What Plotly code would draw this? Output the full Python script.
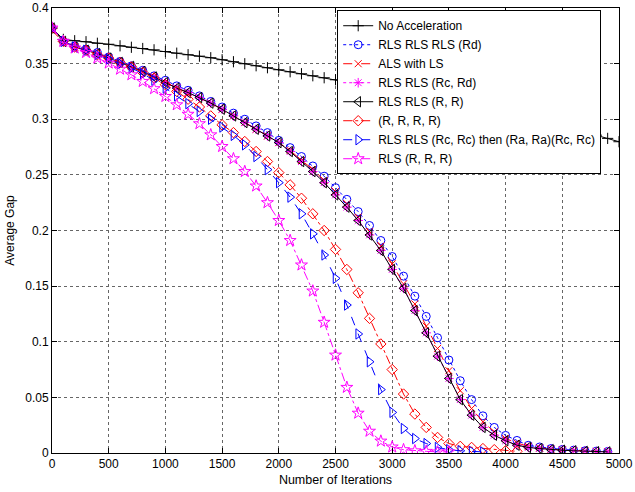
import plotly.graph_objects as go

iterations = list(range(0, 5001, 100))

no_accel = [0.382, 0.3718, 0.3706, 0.3697, 0.3683, 0.3674, 0.366, 0.3647, 0.3636, 0.3624,
            0.3609, 0.3594, 0.358, 0.3567, 0.3553, 0.3535, 0.3517, 0.3499, 0.3481, 0.3463,
            0.3445, 0.3427, 0.3409, 0.3391, 0.3373, 0.3355, 0.3337, 0.332, 0.3302, 0.3284,
            0.3266, 0.3247, 0.3228, 0.3208, 0.3188, 0.3168, 0.3147, 0.3126, 0.3104, 0.3082,
            0.3059, 0.3036, 0.3012, 0.2988, 0.2963, 0.2938, 0.2912, 0.2885, 0.2857, 0.2828,
            0.2798]

rls_rd = [0.382, 0.370, 0.366, 0.363, 0.360, 0.356, 0.352, 0.348, 0.344, 0.339,
          0.335, 0.330, 0.326, 0.321, 0.316, 0.311, 0.3055, 0.300, 0.294, 0.288,
          0.281, 0.2745, 0.2665, 0.258, 0.2488, 0.2385, 0.228, 0.217, 0.2045, 0.191,
          0.1766, 0.159, 0.141, 0.1228, 0.1036, 0.0836, 0.065, 0.048, 0.0334, 0.023,
          0.0158, 0.0113, 0.0069, 0.0054, 0.004, 0.0032, 0.0026, 0.002, 0.0017, 0.0014]

als_ls = [0.380, 0.369, 0.365, 0.362, 0.359, 0.355, 0.351, 0.3475, 0.343, 0.338,
          0.333, 0.328, 0.324, 0.3195, 0.3145, 0.309, 0.303, 0.297, 0.291, 0.285,
          0.279, 0.272, 0.263, 0.255, 0.245, 0.235, 0.224, 0.212, 0.199, 0.186,
          0.170, 0.152, 0.134, 0.114, 0.094, 0.074, 0.056, 0.040, 0.028, 0.019,
          0.013, 0.009, 0.006, 0.0045, 0.0035, 0.0028, 0.0022, 0.0018, 0.0015, 0.0012]

rls_rc_rd = [0.382, 0.370, 0.365, 0.362, 0.359, 0.355, 0.351, 0.3475, 0.343, 0.338,
             0.333, 0.328, 0.324, 0.3195, 0.3145, 0.309, 0.303, 0.297, 0.291, 0.285,
             0.279, 0.271, 0.262, 0.253, 0.243, 0.232, 0.221, 0.209, 0.196, 0.182,
             0.165, 0.148, 0.128, 0.108, 0.087, 0.067, 0.048, 0.034, 0.023, 0.016,
             0.011, 0.007, 0.005, 0.004, 0.003, 0.0025, 0.002, 0.0015, 0.0012, 0.001]

rls_r_r = [0.382, 0.370, 0.365, 0.362, 0.359, 0.355, 0.351, 0.3475, 0.343, 0.338,
           0.333, 0.328, 0.324, 0.3195, 0.3145, 0.309, 0.303, 0.297, 0.291, 0.285,
           0.279, 0.271, 0.262, 0.253, 0.243, 0.232, 0.221, 0.209, 0.196, 0.182,
           0.165, 0.148, 0.128, 0.108, 0.087, 0.067, 0.048, 0.034, 0.023, 0.016,
           0.011, 0.007, 0.005, 0.004, 0.003, 0.0025, 0.002, 0.0015, 0.0012, 0.001]

r4 = [0.382, 0.370, 0.365, 0.362, 0.358, 0.355, 0.351, 0.347, 0.342, 0.337,
      0.331, 0.325, 0.318, 0.311, 0.303, 0.295, 0.288, 0.280, 0.271, 0.262,
      0.252, 0.241, 0.229, 0.215, 0.200, 0.183, 0.165, 0.144, 0.121, 0.098,
      0.075, 0.053, 0.035, 0.023, 0.014, 0.0085, 0.006, 0.005, 0.004, 0.003,
      0.002, 0.0015]

rls_rc_rc = [0.382, 0.370, 0.365, 0.362, 0.358, 0.354, 0.350, 0.346, 0.341, 0.335,
             0.328, 0.321, 0.314, 0.307, 0.300, 0.293, 0.2855, 0.277, 0.2665, 0.2547,
             0.243, 0.230, 0.215, 0.197, 0.178, 0.157, 0.133, 0.107, 0.082, 0.057,
             0.0365, 0.022, 0.013, 0.0085, 0.005, 0.003, 0.002, 0.0015, 0.001]

rls_r3 = [0.382, 0.370, 0.364, 0.360, 0.355, 0.3505, 0.345, 0.340, 0.334, 0.3275,
          0.3205, 0.313, 0.3045, 0.296, 0.286, 0.2755, 0.2645, 0.253, 0.240, 0.225,
          0.209, 0.191, 0.169, 0.1456, 0.1175, 0.088, 0.059, 0.0358, 0.0196, 0.0107,
          0.0054, 0.003, 0.002, 0.0015, 0.001, 0.001]

names = ["No Acceleration", "RLS RLS RLS (Rd)", "ALS with LS", "RLS RLS (Rc, Rd)",
         "RLS RLS (R, R)", "(R, R, R, R)", "RLS RLS (Rc, Rc) then (Ra, Ra)(Rc, Rc)",
         "RLS (R, R, R)"]
series = [no_accel, rls_rd, als_ls, rls_rc_rd, rls_r_r, r4, rls_rc_rc, rls_r3]
colors = ["black", "blue", "red", "magenta", "black", "red", "blue", "magenta"]
dashes = ["solid", "dot", "dash", "dot", "solid", "dashdot", "dash", "dashdot"]
symbols = ["cross-thin-open", "circle-open", "x-thin-open", "asterisk-open",
           "triangle-left-open", "diamond-open", "triangle-right-open", "star-open"]
sizes = [8, 8, 7, 8, 9, 8, 9, 9]

fig = go.Figure()
for name, ys, c, d, s, sz in zip(names, series, colors, dashes, symbols, sizes):
    fig.add_trace(go.Scatter(
        x=iterations[:len(ys)], y=ys, name=name, mode="lines+markers",
        line=dict(color=c, width=1, dash=d),
        marker=dict(symbol=s, size=sz, color=c, line=dict(color=c, width=1)),
    ))

axis_common = dict(
    showline=True, linecolor="black", linewidth=1, mirror="ticks",
    ticks="inside", ticklen=5, tickcolor="black",
    showgrid=True, gridcolor="#666", griddash="dot", gridwidth=1,
    zeroline=False, tickfont=dict(size=12, color="black"), automargin=False,
    ticklabeloverflow="allow",
)

fig.update_layout(
    width=635, height=492,
    margin=dict(l=52, r=16, t=8, b=39),
    paper_bgcolor="white", plot_bgcolor="white",
    font=dict(family="Liberation Sans, Arial, sans-serif", size=12, color="black"),
    xaxis=dict(range=[0, 5000], dtick=500, tick0=0,
               title=dict(text="Number of Iterations", font=dict(size=12.5), standoff=4),
               **axis_common),
    yaxis=dict(range=[0, 0.4], dtick=0.05, tick0=0,
               title=dict(text="Average Gap", font=dict(size=12), standoff=8),
               **axis_common),
    legend=dict(x=0.503, y=0.995, xanchor="left", yanchor="top",
                bgcolor="white", bordercolor="black", borderwidth=1,
                font=dict(size=12), tracegroupgap=0, itemwidth=30),
    showlegend=True,
)

fig.write_html("out.html", config={"displayModeBar": False},
               post_script="document.body.style.margin='0';document.body.style.overflow='hidden';")
